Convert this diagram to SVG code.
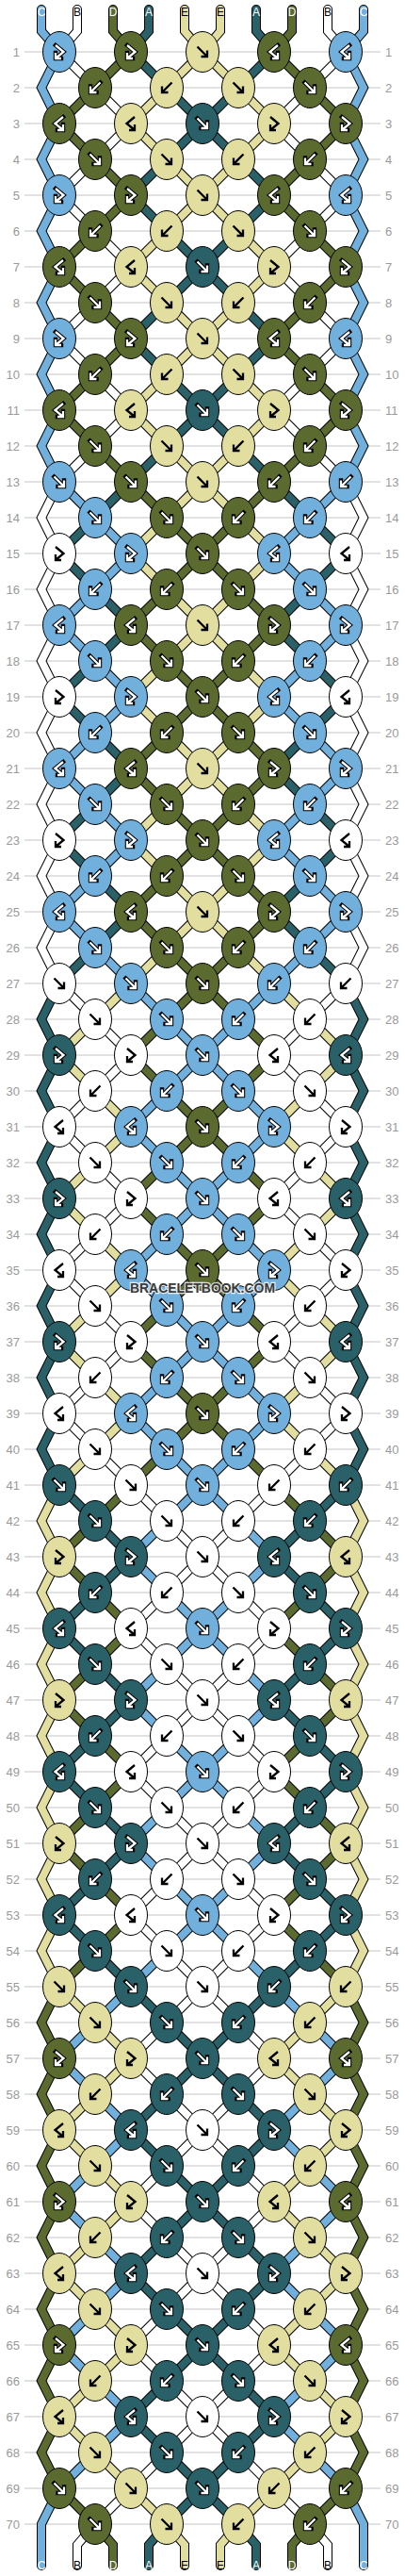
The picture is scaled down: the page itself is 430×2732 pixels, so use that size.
<svg xmlns="http://www.w3.org/2000/svg" width="430" height="2732" viewBox="0 0 430 2732">
<style>
.ln{stroke:#c4c4c4;stroke-width:1;fill:none}
.lb{font-family:"Liberation Sans",Arial,sans-serif;font-size:13px;fill:#9a9a9a}
.l{text-anchor:end}
.so{fill:none;stroke:#000;stroke-width:10;stroke-linejoin:miter;stroke-linecap:round}
.sc{fill:none;stroke-width:8;stroke-linejoin:miter;stroke-linecap:round}
.cb{stroke:#71b0dd}.cw{stroke:#fff}.co{stroke:#5b6a2f}.ct{stroke:#2a6169}.cy{stroke:#e2dea0}
.ao{fill:none;stroke-width:4.4;stroke-linecap:square;stroke-linejoin:miter}
.ai{fill:none;stroke:currentColor;stroke-width:2.3;stroke-linejoin:miter}
.b{fill:#71b0dd;stroke:#000;color:#fff}
.o{fill:#5b6a2f;stroke:#000;color:#fff}
.t{fill:#2a6169;stroke:#000;color:#fff}
.w{fill:#fff;stroke:none;color:#000}
.y{fill:#e2dea0;stroke:none;color:#000}
.sl{font-family:"Liberation Sans",Arial,sans-serif;font-size:12px;text-anchor:middle}
.tw{fill:#fff}.tk{fill:#000}
</style>
<defs>
<ellipse id="e" rx="17.5" ry="21.5" stroke="#000" stroke-width="1"/>
<path id="aF" d="M-5.5,-5.5L4,4M5,-1.5V5H-1.5"/>
<path id="aB" d="M5.5,-5.5L-4,4M-5,-1.5V5H1.5"/>
<path id="aFB" d="M-4,-7L4.5,0L-3.5,6.5M-4,1V7H2"/>
<path id="aBF" d="M4,-7L-4.5,0L3.5,6.5M4,1V7H-2"/>
<g id="F"><use href="#e"/><use href="#aF" class="ao"/><use href="#aF" class="ai"/></g>
<g id="B"><use href="#e"/><use href="#aB" class="ao"/><use href="#aB" class="ai"/></g>
<g id="FB"><use href="#e"/><use href="#aFB" class="ao"/><use href="#aFB" class="ai"/></g>
<g id="BF"><use href="#e"/><use href="#aBF" class="ao"/><use href="#aBF" class="ai"/></g>
<path id="s0" d="M44,10L44,33 63,55 44,93 63,131 44,169 63,207 44,245 63,283 44,321 63,359 44,397 63,435 44,473 63,511 101,549 139,587 101,625 63,663 101,701 139,739 101,777 63,815 101,853 139,891 101,929 63,967 101,1005 139,1043 177,1081 215,1119 253,1157 291,1195 253,1233 215,1271 177,1309 139,1347 177,1385 215,1423 253,1461 291,1499 253,1537 215,1575 177,1613 139,1651 177,1689 215,1727 253,1765 291,1803 253,1841 215,1879 177,1917 139,1955 177,1993 215,2031 253,2069 291,2107 329,2145 367,2183 329,2221 291,2259 329,2297 367,2335 329,2373 291,2411 329,2449 367,2487 329,2525 291,2563 329,2601 367,2639 386,2677 386,2721"/>
<path id="s1" d="M82,10L82,33 63,55 101,93 139,131 101,169 63,207 101,245 139,283 101,321 63,359 101,397 139,435 101,473 63,511 44,549 63,587 44,625 63,663 44,701 63,739 44,777 63,815 44,853 63,891 44,929 63,967 44,1005 63,1043 101,1081 139,1119 101,1157 63,1195 101,1233 139,1271 101,1309 63,1347 101,1385 139,1423 101,1461 63,1499 101,1537 139,1575 177,1613 215,1651 253,1689 291,1727 253,1765 215,1803 177,1841 139,1879 177,1917 215,1955 253,1993 291,2031 253,2069 215,2107 177,2145 139,2183 177,2221 215,2259 253,2297 291,2335 253,2373 215,2411 177,2449 139,2487 177,2525 215,2563 253,2601 291,2639 329,2677 348,2699 348,2721"/>
<path id="s2" d="M120,10L120,33 139,55 101,93 63,131 101,169 139,207 101,245 63,283 101,321 139,359 101,397 63,435 101,473 139,511 177,549 215,587 253,625 291,663 253,701 215,739 177,777 139,815 177,853 215,891 253,929 291,967 253,1005 215,1043 177,1081 139,1119 177,1157 215,1195 253,1233 291,1271 253,1309 215,1347 177,1385 139,1423 177,1461 215,1499 253,1537 291,1575 329,1613 367,1651 329,1689 291,1727 329,1765 367,1803 329,1841 291,1879 329,1917 367,1955 329,1993 291,2031 329,2069 367,2107 386,2145 367,2183 386,2221 367,2259 386,2297 367,2335 386,2373 367,2411 386,2449 367,2487 386,2525 367,2563 386,2601 367,2639 329,2677 310,2699 310,2721"/>
<path id="s3" d="M158,10L158,33 139,55 177,93 215,131 253,169 291,207 253,245 215,283 177,321 139,359 177,397 215,435 253,473 291,511 329,549 367,587 329,625 291,663 329,701 367,739 329,777 291,815 329,853 367,891 329,929 291,967 329,1005 367,1043 386,1081 367,1119 386,1157 367,1195 386,1233 367,1271 386,1309 367,1347 386,1385 367,1423 386,1461 367,1499 386,1537 367,1575 329,1613 291,1651 329,1689 367,1727 329,1765 291,1803 329,1841 367,1879 329,1917 291,1955 329,1993 367,2031 329,2069 291,2107 253,2145 215,2183 177,2221 139,2259 177,2297 215,2335 253,2373 291,2411 253,2449 215,2487 177,2525 139,2563 177,2601 215,2639 253,2677 272,2699 272,2721"/>
<path id="s4" d="M196,10L196,33 215,55 253,93 291,131 253,169 215,207 177,245 139,283 177,321 215,359 253,397 291,435 253,473 215,511 177,549 139,587 177,625 215,663 253,701 291,739 253,777 215,815 177,853 139,891 177,929 215,967 253,1005 291,1043 329,1081 367,1119 329,1157 291,1195 329,1233 367,1271 329,1309 291,1347 329,1385 367,1423 329,1461 291,1499 329,1537 367,1575 386,1613 367,1651 386,1689 367,1727 386,1765 367,1803 386,1841 367,1879 386,1917 367,1955 386,1993 367,2031 386,2069 367,2107 329,2145 291,2183 329,2221 367,2259 329,2297 291,2335 329,2373 367,2411 329,2449 291,2487 329,2525 367,2563 329,2601 291,2639 253,2677 234,2699 234,2721"/>
</defs>
<rect width="430" height="2732" fill="#fff"/>
<g id="rowlines">
<path class="ln" d="M26,55H404M26,93H404M26,131H404M26,169H404M26,207H404M26,245H404M26,283H404M26,321H404M26,359H404M26,397H404M26,435H404M26,473H404M26,511H404M26,549H404M26,587H404M26,625H404M26,663H404M26,701H404M26,739H404M26,777H404M26,815H404M26,853H404M26,891H404M26,929H404M26,967H404M26,1005H404M26,1043H404M26,1081H404M26,1119H404M26,1157H404M26,1195H404M26,1233H404M26,1271H404M26,1309H404M26,1347H404M26,1385H404M26,1423H404M26,1461H404M26,1499H404M26,1537H404M26,1575H404M26,1613H404M26,1651H404M26,1689H404M26,1727H404M26,1765H404M26,1803H404M26,1841H404M26,1879H404M26,1917H404M26,1955H404M26,1993H404M26,2031H404M26,2069H404M26,2107H404M26,2145H404M26,2183H404M26,2221H404M26,2259H404M26,2297H404M26,2335H404M26,2373H404M26,2411H404M26,2449H404M26,2487H404M26,2525H404M26,2563H404M26,2601H404M26,2639H404M26,2677H404"/>
</g>
<g id="rowlabels" class="lb">
<g class="l">
<text x="21" y="60">1</text><text x="21" y="98">2</text><text x="21" y="136">3</text><text x="21" y="174">4</text><text x="21" y="212">5</text><text x="21" y="250">6</text><text x="21" y="288">7</text><text x="21" y="326">8</text><text x="21" y="364">9</text><text x="21" y="402">10</text><text x="21" y="440">11</text><text x="21" y="478">12</text><text x="21" y="516">13</text><text x="21" y="554">14</text><text x="21" y="592">15</text><text x="21" y="630">16</text><text x="21" y="668">17</text><text x="21" y="706">18</text><text x="21" y="744">19</text><text x="21" y="782">20</text><text x="21" y="820">21</text><text x="21" y="858">22</text><text x="21" y="896">23</text><text x="21" y="934">24</text><text x="21" y="972">25</text><text x="21" y="1010">26</text><text x="21" y="1048">27</text><text x="21" y="1086">28</text><text x="21" y="1124">29</text><text x="21" y="1162">30</text><text x="21" y="1200">31</text><text x="21" y="1238">32</text><text x="21" y="1276">33</text><text x="21" y="1314">34</text><text x="21" y="1352">35</text><text x="21" y="1390">36</text><text x="21" y="1428">37</text><text x="21" y="1466">38</text><text x="21" y="1504">39</text><text x="21" y="1542">40</text><text x="21" y="1580">41</text><text x="21" y="1618">42</text><text x="21" y="1656">43</text><text x="21" y="1694">44</text><text x="21" y="1732">45</text><text x="21" y="1770">46</text><text x="21" y="1808">47</text><text x="21" y="1846">48</text><text x="21" y="1884">49</text><text x="21" y="1922">50</text><text x="21" y="1960">51</text><text x="21" y="1998">52</text><text x="21" y="2036">53</text><text x="21" y="2074">54</text><text x="21" y="2112">55</text><text x="21" y="2150">56</text><text x="21" y="2188">57</text><text x="21" y="2226">58</text><text x="21" y="2264">59</text><text x="21" y="2302">60</text><text x="21" y="2340">61</text><text x="21" y="2378">62</text><text x="21" y="2416">63</text><text x="21" y="2454">64</text><text x="21" y="2492">65</text><text x="21" y="2530">66</text><text x="21" y="2568">67</text><text x="21" y="2606">68</text><text x="21" y="2644">69</text><text x="21" y="2682">70</text>
</g>
<g>
<text x="409" y="60">1</text><text x="409" y="98">2</text><text x="409" y="136">3</text><text x="409" y="174">4</text><text x="409" y="212">5</text><text x="409" y="250">6</text><text x="409" y="288">7</text><text x="409" y="326">8</text><text x="409" y="364">9</text><text x="409" y="402">10</text><text x="409" y="440">11</text><text x="409" y="478">12</text><text x="409" y="516">13</text><text x="409" y="554">14</text><text x="409" y="592">15</text><text x="409" y="630">16</text><text x="409" y="668">17</text><text x="409" y="706">18</text><text x="409" y="744">19</text><text x="409" y="782">20</text><text x="409" y="820">21</text><text x="409" y="858">22</text><text x="409" y="896">23</text><text x="409" y="934">24</text><text x="409" y="972">25</text><text x="409" y="1010">26</text><text x="409" y="1048">27</text><text x="409" y="1086">28</text><text x="409" y="1124">29</text><text x="409" y="1162">30</text><text x="409" y="1200">31</text><text x="409" y="1238">32</text><text x="409" y="1276">33</text><text x="409" y="1314">34</text><text x="409" y="1352">35</text><text x="409" y="1390">36</text><text x="409" y="1428">37</text><text x="409" y="1466">38</text><text x="409" y="1504">39</text><text x="409" y="1542">40</text><text x="409" y="1580">41</text><text x="409" y="1618">42</text><text x="409" y="1656">43</text><text x="409" y="1694">44</text><text x="409" y="1732">45</text><text x="409" y="1770">46</text><text x="409" y="1808">47</text><text x="409" y="1846">48</text><text x="409" y="1884">49</text><text x="409" y="1922">50</text><text x="409" y="1960">51</text><text x="409" y="1998">52</text><text x="409" y="2036">53</text><text x="409" y="2074">54</text><text x="409" y="2112">55</text><text x="409" y="2150">56</text><text x="409" y="2188">57</text><text x="409" y="2226">58</text><text x="409" y="2264">59</text><text x="409" y="2302">60</text><text x="409" y="2340">61</text><text x="409" y="2378">62</text><text x="409" y="2416">63</text><text x="409" y="2454">64</text><text x="409" y="2492">65</text><text x="409" y="2530">66</text><text x="409" y="2568">67</text><text x="409" y="2606">68</text><text x="409" y="2644">69</text><text x="409" y="2682">70</text>
</g>
</g>
<g id="connectors">
<use href="#s0" class="so"/><use href="#s1" class="so"/><use href="#s2" class="so"/><use href="#s3" class="so"/><use href="#s4" class="so"/>
<g transform="matrix(-1,0,0,1,430,0)"><use href="#s0" class="so"/><use href="#s1" class="so"/><use href="#s2" class="so"/><use href="#s3" class="so"/><use href="#s4" class="so"/></g>
<use href="#s0" class="sc cb"/><use href="#s1" class="sc cw"/><use href="#s2" class="sc co"/><use href="#s3" class="sc ct"/><use href="#s4" class="sc cy"/>
<g transform="matrix(-1,0,0,1,430,0)"><use href="#s0" class="sc cb"/><use href="#s1" class="sc cw"/><use href="#s2" class="sc co"/><use href="#s3" class="sc ct"/><use href="#s4" class="sc cy"/></g>
</g>
<g id="stringlabels" class="sl">
<text x="44" y="17" class="tw">C</text><text x="82" y="17" class="tk">B</text><text x="120" y="17" class="tw">D</text><text x="158" y="17" class="tw">A</text><text x="196" y="17" class="tk">E</text><text x="234" y="17" class="tk">E</text><text x="272" y="17" class="tw">A</text><text x="310" y="17" class="tw">D</text><text x="348" y="17" class="tk">B</text><text x="386" y="17" class="tw">C</text>
<text x="44" y="2725" class="tw">C</text><text x="82" y="2725" class="tk">B</text><text x="120" y="2725" class="tw">D</text><text x="158" y="2725" class="tw">A</text><text x="196" y="2725" class="tk">E</text><text x="234" y="2725" class="tk">E</text><text x="272" y="2725" class="tw">A</text><text x="310" y="2725" class="tw">D</text><text x="348" y="2725" class="tk">B</text><text x="386" y="2725" class="tw">C</text>
</g>
<g id="knots">
<g id="k1-1" class="b"><use href="#FB" x="63" y="55"/></g><g id="k1-2" class="o"><use href="#FB" x="139" y="55"/></g><g id="k1-3" class="y"><use href="#F" x="215" y="55"/></g><g id="k1-4" class="o"><use href="#BF" x="291" y="55"/></g><g id="k1-5" class="b"><use href="#BF" x="367" y="55"/></g>
<g id="k2-1" class="o"><use href="#B" x="101" y="93"/></g><g id="k2-2" class="y"><use href="#B" x="177" y="93"/></g><g id="k2-3" class="y"><use href="#F" x="253" y="93"/></g><g id="k2-4" class="o"><use href="#F" x="329" y="93"/></g>
<g id="k3-1" class="o"><use href="#BF" x="63" y="131"/></g><g id="k3-2" class="y"><use href="#BF" x="139" y="131"/></g><g id="k3-3" class="t"><use href="#F" x="215" y="131"/></g><g id="k3-4" class="y"><use href="#FB" x="291" y="131"/></g><g id="k3-5" class="o"><use href="#FB" x="367" y="131"/></g>
<g id="k4-1" class="o"><use href="#F" x="101" y="169"/></g><g id="k4-2" class="y"><use href="#F" x="177" y="169"/></g><g id="k4-3" class="y"><use href="#B" x="253" y="169"/></g><g id="k4-4" class="o"><use href="#B" x="329" y="169"/></g>
<g id="k5-1" class="b"><use href="#FB" x="63" y="207"/></g><g id="k5-2" class="o"><use href="#FB" x="139" y="207"/></g><g id="k5-3" class="y"><use href="#F" x="215" y="207"/></g><g id="k5-4" class="o"><use href="#BF" x="291" y="207"/></g><g id="k5-5" class="b"><use href="#BF" x="367" y="207"/></g>
<g id="k6-1" class="o"><use href="#B" x="101" y="245"/></g><g id="k6-2" class="y"><use href="#B" x="177" y="245"/></g><g id="k6-3" class="y"><use href="#F" x="253" y="245"/></g><g id="k6-4" class="o"><use href="#F" x="329" y="245"/></g>
<g id="k7-1" class="o"><use href="#BF" x="63" y="283"/></g><g id="k7-2" class="y"><use href="#BF" x="139" y="283"/></g><g id="k7-3" class="t"><use href="#F" x="215" y="283"/></g><g id="k7-4" class="y"><use href="#FB" x="291" y="283"/></g><g id="k7-5" class="o"><use href="#FB" x="367" y="283"/></g>
<g id="k8-1" class="o"><use href="#F" x="101" y="321"/></g><g id="k8-2" class="y"><use href="#F" x="177" y="321"/></g><g id="k8-3" class="y"><use href="#B" x="253" y="321"/></g><g id="k8-4" class="o"><use href="#B" x="329" y="321"/></g>
<g id="k9-1" class="b"><use href="#FB" x="63" y="359"/></g><g id="k9-2" class="o"><use href="#FB" x="139" y="359"/></g><g id="k9-3" class="y"><use href="#F" x="215" y="359"/></g><g id="k9-4" class="o"><use href="#BF" x="291" y="359"/></g><g id="k9-5" class="b"><use href="#BF" x="367" y="359"/></g>
<g id="k10-1" class="o"><use href="#B" x="101" y="397"/></g><g id="k10-2" class="y"><use href="#B" x="177" y="397"/></g><g id="k10-3" class="y"><use href="#F" x="253" y="397"/></g><g id="k10-4" class="o"><use href="#F" x="329" y="397"/></g>
<g id="k11-1" class="o"><use href="#BF" x="63" y="435"/></g><g id="k11-2" class="y"><use href="#BF" x="139" y="435"/></g><g id="k11-3" class="t"><use href="#F" x="215" y="435"/></g><g id="k11-4" class="y"><use href="#FB" x="291" y="435"/></g><g id="k11-5" class="o"><use href="#FB" x="367" y="435"/></g>
<g id="k12-1" class="o"><use href="#F" x="101" y="473"/></g><g id="k12-2" class="y"><use href="#F" x="177" y="473"/></g><g id="k12-3" class="y"><use href="#B" x="253" y="473"/></g><g id="k12-4" class="o"><use href="#B" x="329" y="473"/></g>
<g id="k13-1" class="b"><use href="#F" x="63" y="511"/></g><g id="k13-2" class="o"><use href="#F" x="139" y="511"/></g><g id="k13-3" class="y"><use href="#F" x="215" y="511"/></g><g id="k13-4" class="o"><use href="#B" x="291" y="511"/></g><g id="k13-5" class="b"><use href="#B" x="367" y="511"/></g>
<g id="k14-1" class="b"><use href="#F" x="101" y="549"/></g><g id="k14-2" class="o"><use href="#F" x="177" y="549"/></g><g id="k14-3" class="o"><use href="#B" x="253" y="549"/></g><g id="k14-4" class="b"><use href="#B" x="329" y="549"/></g>
<g id="k15-1" class="w"><use href="#FB" x="63" y="587"/></g><g id="k15-2" class="b"><use href="#FB" x="139" y="587"/></g><g id="k15-3" class="o"><use href="#F" x="215" y="587"/></g><g id="k15-4" class="b"><use href="#BF" x="291" y="587"/></g><g id="k15-5" class="w"><use href="#BF" x="367" y="587"/></g>
<g id="k16-1" class="b"><use href="#B" x="101" y="625"/></g><g id="k16-2" class="o"><use href="#B" x="177" y="625"/></g><g id="k16-3" class="o"><use href="#F" x="253" y="625"/></g><g id="k16-4" class="b"><use href="#F" x="329" y="625"/></g>
<g id="k17-1" class="b"><use href="#BF" x="63" y="663"/></g><g id="k17-2" class="o"><use href="#BF" x="139" y="663"/></g><g id="k17-3" class="y"><use href="#F" x="215" y="663"/></g><g id="k17-4" class="o"><use href="#FB" x="291" y="663"/></g><g id="k17-5" class="b"><use href="#FB" x="367" y="663"/></g>
<g id="k18-1" class="b"><use href="#F" x="101" y="701"/></g><g id="k18-2" class="o"><use href="#F" x="177" y="701"/></g><g id="k18-3" class="o"><use href="#B" x="253" y="701"/></g><g id="k18-4" class="b"><use href="#B" x="329" y="701"/></g>
<g id="k19-1" class="w"><use href="#FB" x="63" y="739"/></g><g id="k19-2" class="b"><use href="#FB" x="139" y="739"/></g><g id="k19-3" class="o"><use href="#F" x="215" y="739"/></g><g id="k19-4" class="b"><use href="#BF" x="291" y="739"/></g><g id="k19-5" class="w"><use href="#BF" x="367" y="739"/></g>
<g id="k20-1" class="b"><use href="#B" x="101" y="777"/></g><g id="k20-2" class="o"><use href="#B" x="177" y="777"/></g><g id="k20-3" class="o"><use href="#F" x="253" y="777"/></g><g id="k20-4" class="b"><use href="#F" x="329" y="777"/></g>
<g id="k21-1" class="b"><use href="#BF" x="63" y="815"/></g><g id="k21-2" class="o"><use href="#BF" x="139" y="815"/></g><g id="k21-3" class="y"><use href="#F" x="215" y="815"/></g><g id="k21-4" class="o"><use href="#FB" x="291" y="815"/></g><g id="k21-5" class="b"><use href="#FB" x="367" y="815"/></g>
<g id="k22-1" class="b"><use href="#F" x="101" y="853"/></g><g id="k22-2" class="o"><use href="#F" x="177" y="853"/></g><g id="k22-3" class="o"><use href="#B" x="253" y="853"/></g><g id="k22-4" class="b"><use href="#B" x="329" y="853"/></g>
<g id="k23-1" class="w"><use href="#FB" x="63" y="891"/></g><g id="k23-2" class="b"><use href="#FB" x="139" y="891"/></g><g id="k23-3" class="o"><use href="#F" x="215" y="891"/></g><g id="k23-4" class="b"><use href="#BF" x="291" y="891"/></g><g id="k23-5" class="w"><use href="#BF" x="367" y="891"/></g>
<g id="k24-1" class="b"><use href="#B" x="101" y="929"/></g><g id="k24-2" class="o"><use href="#B" x="177" y="929"/></g><g id="k24-3" class="o"><use href="#F" x="253" y="929"/></g><g id="k24-4" class="b"><use href="#F" x="329" y="929"/></g>
<g id="k25-1" class="b"><use href="#BF" x="63" y="967"/></g><g id="k25-2" class="o"><use href="#BF" x="139" y="967"/></g><g id="k25-3" class="y"><use href="#F" x="215" y="967"/></g><g id="k25-4" class="o"><use href="#FB" x="291" y="967"/></g><g id="k25-5" class="b"><use href="#FB" x="367" y="967"/></g>
<g id="k26-1" class="b"><use href="#F" x="101" y="1005"/></g><g id="k26-2" class="o"><use href="#F" x="177" y="1005"/></g><g id="k26-3" class="o"><use href="#B" x="253" y="1005"/></g><g id="k26-4" class="b"><use href="#B" x="329" y="1005"/></g>
<g id="k27-1" class="w"><use href="#F" x="63" y="1043"/></g><g id="k27-2" class="b"><use href="#F" x="139" y="1043"/></g><g id="k27-3" class="o"><use href="#F" x="215" y="1043"/></g><g id="k27-4" class="b"><use href="#B" x="291" y="1043"/></g><g id="k27-5" class="w"><use href="#B" x="367" y="1043"/></g>
<g id="k28-1" class="w"><use href="#F" x="101" y="1081"/></g><g id="k28-2" class="b"><use href="#F" x="177" y="1081"/></g><g id="k28-3" class="b"><use href="#B" x="253" y="1081"/></g><g id="k28-4" class="w"><use href="#B" x="329" y="1081"/></g>
<g id="k29-1" class="t"><use href="#FB" x="63" y="1119"/></g><g id="k29-2" class="w"><use href="#FB" x="139" y="1119"/></g><g id="k29-3" class="b"><use href="#F" x="215" y="1119"/></g><g id="k29-4" class="w"><use href="#BF" x="291" y="1119"/></g><g id="k29-5" class="t"><use href="#BF" x="367" y="1119"/></g>
<g id="k30-1" class="w"><use href="#B" x="101" y="1157"/></g><g id="k30-2" class="b"><use href="#B" x="177" y="1157"/></g><g id="k30-3" class="b"><use href="#F" x="253" y="1157"/></g><g id="k30-4" class="w"><use href="#F" x="329" y="1157"/></g>
<g id="k31-1" class="w"><use href="#BF" x="63" y="1195"/></g><g id="k31-2" class="b"><use href="#BF" x="139" y="1195"/></g><g id="k31-3" class="o"><use href="#F" x="215" y="1195"/></g><g id="k31-4" class="b"><use href="#FB" x="291" y="1195"/></g><g id="k31-5" class="w"><use href="#FB" x="367" y="1195"/></g>
<g id="k32-1" class="w"><use href="#F" x="101" y="1233"/></g><g id="k32-2" class="b"><use href="#F" x="177" y="1233"/></g><g id="k32-3" class="b"><use href="#B" x="253" y="1233"/></g><g id="k32-4" class="w"><use href="#B" x="329" y="1233"/></g>
<g id="k33-1" class="t"><use href="#FB" x="63" y="1271"/></g><g id="k33-2" class="w"><use href="#FB" x="139" y="1271"/></g><g id="k33-3" class="b"><use href="#F" x="215" y="1271"/></g><g id="k33-4" class="w"><use href="#BF" x="291" y="1271"/></g><g id="k33-5" class="t"><use href="#BF" x="367" y="1271"/></g>
<g id="k34-1" class="w"><use href="#B" x="101" y="1309"/></g><g id="k34-2" class="b"><use href="#B" x="177" y="1309"/></g><g id="k34-3" class="b"><use href="#F" x="253" y="1309"/></g><g id="k34-4" class="w"><use href="#F" x="329" y="1309"/></g>
<g id="k35-1" class="w"><use href="#BF" x="63" y="1347"/></g><g id="k35-2" class="b"><use href="#BF" x="139" y="1347"/></g><g id="k35-3" class="o"><use href="#F" x="215" y="1347"/></g><g id="k35-4" class="b"><use href="#FB" x="291" y="1347"/></g><g id="k35-5" class="w"><use href="#FB" x="367" y="1347"/></g>
<g id="k36-1" class="w"><use href="#F" x="101" y="1385"/></g><g id="k36-2" class="b"><use href="#F" x="177" y="1385"/></g><g id="k36-3" class="b"><use href="#B" x="253" y="1385"/></g><g id="k36-4" class="w"><use href="#B" x="329" y="1385"/></g>
<g id="k37-1" class="t"><use href="#FB" x="63" y="1423"/></g><g id="k37-2" class="w"><use href="#FB" x="139" y="1423"/></g><g id="k37-3" class="b"><use href="#F" x="215" y="1423"/></g><g id="k37-4" class="w"><use href="#BF" x="291" y="1423"/></g><g id="k37-5" class="t"><use href="#BF" x="367" y="1423"/></g>
<g id="k38-1" class="w"><use href="#B" x="101" y="1461"/></g><g id="k38-2" class="b"><use href="#B" x="177" y="1461"/></g><g id="k38-3" class="b"><use href="#F" x="253" y="1461"/></g><g id="k38-4" class="w"><use href="#F" x="329" y="1461"/></g>
<g id="k39-1" class="w"><use href="#BF" x="63" y="1499"/></g><g id="k39-2" class="b"><use href="#BF" x="139" y="1499"/></g><g id="k39-3" class="o"><use href="#F" x="215" y="1499"/></g><g id="k39-4" class="b"><use href="#FB" x="291" y="1499"/></g><g id="k39-5" class="w"><use href="#FB" x="367" y="1499"/></g>
<g id="k40-1" class="w"><use href="#F" x="101" y="1537"/></g><g id="k40-2" class="b"><use href="#F" x="177" y="1537"/></g><g id="k40-3" class="b"><use href="#B" x="253" y="1537"/></g><g id="k40-4" class="w"><use href="#B" x="329" y="1537"/></g>
<g id="k41-1" class="t"><use href="#F" x="63" y="1575"/></g><g id="k41-2" class="w"><use href="#F" x="139" y="1575"/></g><g id="k41-3" class="b"><use href="#F" x="215" y="1575"/></g><g id="k41-4" class="w"><use href="#B" x="291" y="1575"/></g><g id="k41-5" class="t"><use href="#B" x="367" y="1575"/></g>
<g id="k42-1" class="t"><use href="#F" x="101" y="1613"/></g><g id="k42-2" class="w"><use href="#F" x="177" y="1613"/></g><g id="k42-3" class="w"><use href="#B" x="253" y="1613"/></g><g id="k42-4" class="t"><use href="#B" x="329" y="1613"/></g>
<g id="k43-1" class="y"><use href="#FB" x="63" y="1651"/></g><g id="k43-2" class="t"><use href="#FB" x="139" y="1651"/></g><g id="k43-3" class="w"><use href="#F" x="215" y="1651"/></g><g id="k43-4" class="t"><use href="#BF" x="291" y="1651"/></g><g id="k43-5" class="y"><use href="#BF" x="367" y="1651"/></g>
<g id="k44-1" class="t"><use href="#B" x="101" y="1689"/></g><g id="k44-2" class="w"><use href="#B" x="177" y="1689"/></g><g id="k44-3" class="w"><use href="#F" x="253" y="1689"/></g><g id="k44-4" class="t"><use href="#F" x="329" y="1689"/></g>
<g id="k45-1" class="t"><use href="#BF" x="63" y="1727"/></g><g id="k45-2" class="w"><use href="#BF" x="139" y="1727"/></g><g id="k45-3" class="b"><use href="#F" x="215" y="1727"/></g><g id="k45-4" class="w"><use href="#FB" x="291" y="1727"/></g><g id="k45-5" class="t"><use href="#FB" x="367" y="1727"/></g>
<g id="k46-1" class="t"><use href="#F" x="101" y="1765"/></g><g id="k46-2" class="w"><use href="#F" x="177" y="1765"/></g><g id="k46-3" class="w"><use href="#B" x="253" y="1765"/></g><g id="k46-4" class="t"><use href="#B" x="329" y="1765"/></g>
<g id="k47-1" class="y"><use href="#FB" x="63" y="1803"/></g><g id="k47-2" class="t"><use href="#FB" x="139" y="1803"/></g><g id="k47-3" class="w"><use href="#F" x="215" y="1803"/></g><g id="k47-4" class="t"><use href="#BF" x="291" y="1803"/></g><g id="k47-5" class="y"><use href="#BF" x="367" y="1803"/></g>
<g id="k48-1" class="t"><use href="#B" x="101" y="1841"/></g><g id="k48-2" class="w"><use href="#B" x="177" y="1841"/></g><g id="k48-3" class="w"><use href="#F" x="253" y="1841"/></g><g id="k48-4" class="t"><use href="#F" x="329" y="1841"/></g>
<g id="k49-1" class="t"><use href="#BF" x="63" y="1879"/></g><g id="k49-2" class="w"><use href="#BF" x="139" y="1879"/></g><g id="k49-3" class="b"><use href="#F" x="215" y="1879"/></g><g id="k49-4" class="w"><use href="#FB" x="291" y="1879"/></g><g id="k49-5" class="t"><use href="#FB" x="367" y="1879"/></g>
<g id="k50-1" class="t"><use href="#F" x="101" y="1917"/></g><g id="k50-2" class="w"><use href="#F" x="177" y="1917"/></g><g id="k50-3" class="w"><use href="#B" x="253" y="1917"/></g><g id="k50-4" class="t"><use href="#B" x="329" y="1917"/></g>
<g id="k51-1" class="y"><use href="#FB" x="63" y="1955"/></g><g id="k51-2" class="t"><use href="#FB" x="139" y="1955"/></g><g id="k51-3" class="w"><use href="#F" x="215" y="1955"/></g><g id="k51-4" class="t"><use href="#BF" x="291" y="1955"/></g><g id="k51-5" class="y"><use href="#BF" x="367" y="1955"/></g>
<g id="k52-1" class="t"><use href="#B" x="101" y="1993"/></g><g id="k52-2" class="w"><use href="#B" x="177" y="1993"/></g><g id="k52-3" class="w"><use href="#F" x="253" y="1993"/></g><g id="k52-4" class="t"><use href="#F" x="329" y="1993"/></g>
<g id="k53-1" class="t"><use href="#BF" x="63" y="2031"/></g><g id="k53-2" class="w"><use href="#BF" x="139" y="2031"/></g><g id="k53-3" class="b"><use href="#F" x="215" y="2031"/></g><g id="k53-4" class="w"><use href="#FB" x="291" y="2031"/></g><g id="k53-5" class="t"><use href="#FB" x="367" y="2031"/></g>
<g id="k54-1" class="t"><use href="#F" x="101" y="2069"/></g><g id="k54-2" class="w"><use href="#F" x="177" y="2069"/></g><g id="k54-3" class="w"><use href="#B" x="253" y="2069"/></g><g id="k54-4" class="t"><use href="#B" x="329" y="2069"/></g>
<g id="k55-1" class="y"><use href="#F" x="63" y="2107"/></g><g id="k55-2" class="t"><use href="#F" x="139" y="2107"/></g><g id="k55-3" class="w"><use href="#F" x="215" y="2107"/></g><g id="k55-4" class="t"><use href="#B" x="291" y="2107"/></g><g id="k55-5" class="y"><use href="#B" x="367" y="2107"/></g>
<g id="k56-1" class="y"><use href="#F" x="101" y="2145"/></g><g id="k56-2" class="t"><use href="#F" x="177" y="2145"/></g><g id="k56-3" class="t"><use href="#B" x="253" y="2145"/></g><g id="k56-4" class="y"><use href="#B" x="329" y="2145"/></g>
<g id="k57-1" class="o"><use href="#FB" x="63" y="2183"/></g><g id="k57-2" class="y"><use href="#FB" x="139" y="2183"/></g><g id="k57-3" class="t"><use href="#F" x="215" y="2183"/></g><g id="k57-4" class="y"><use href="#BF" x="291" y="2183"/></g><g id="k57-5" class="o"><use href="#BF" x="367" y="2183"/></g>
<g id="k58-1" class="y"><use href="#B" x="101" y="2221"/></g><g id="k58-2" class="t"><use href="#B" x="177" y="2221"/></g><g id="k58-3" class="t"><use href="#F" x="253" y="2221"/></g><g id="k58-4" class="y"><use href="#F" x="329" y="2221"/></g>
<g id="k59-1" class="y"><use href="#BF" x="63" y="2259"/></g><g id="k59-2" class="t"><use href="#BF" x="139" y="2259"/></g><g id="k59-3" class="w"><use href="#F" x="215" y="2259"/></g><g id="k59-4" class="t"><use href="#FB" x="291" y="2259"/></g><g id="k59-5" class="y"><use href="#FB" x="367" y="2259"/></g>
<g id="k60-1" class="y"><use href="#F" x="101" y="2297"/></g><g id="k60-2" class="t"><use href="#F" x="177" y="2297"/></g><g id="k60-3" class="t"><use href="#B" x="253" y="2297"/></g><g id="k60-4" class="y"><use href="#B" x="329" y="2297"/></g>
<g id="k61-1" class="o"><use href="#FB" x="63" y="2335"/></g><g id="k61-2" class="y"><use href="#FB" x="139" y="2335"/></g><g id="k61-3" class="t"><use href="#F" x="215" y="2335"/></g><g id="k61-4" class="y"><use href="#BF" x="291" y="2335"/></g><g id="k61-5" class="o"><use href="#BF" x="367" y="2335"/></g>
<g id="k62-1" class="y"><use href="#B" x="101" y="2373"/></g><g id="k62-2" class="t"><use href="#B" x="177" y="2373"/></g><g id="k62-3" class="t"><use href="#F" x="253" y="2373"/></g><g id="k62-4" class="y"><use href="#F" x="329" y="2373"/></g>
<g id="k63-1" class="y"><use href="#BF" x="63" y="2411"/></g><g id="k63-2" class="t"><use href="#BF" x="139" y="2411"/></g><g id="k63-3" class="w"><use href="#F" x="215" y="2411"/></g><g id="k63-4" class="t"><use href="#FB" x="291" y="2411"/></g><g id="k63-5" class="y"><use href="#FB" x="367" y="2411"/></g>
<g id="k64-1" class="y"><use href="#F" x="101" y="2449"/></g><g id="k64-2" class="t"><use href="#F" x="177" y="2449"/></g><g id="k64-3" class="t"><use href="#B" x="253" y="2449"/></g><g id="k64-4" class="y"><use href="#B" x="329" y="2449"/></g>
<g id="k65-1" class="o"><use href="#FB" x="63" y="2487"/></g><g id="k65-2" class="y"><use href="#FB" x="139" y="2487"/></g><g id="k65-3" class="t"><use href="#F" x="215" y="2487"/></g><g id="k65-4" class="y"><use href="#BF" x="291" y="2487"/></g><g id="k65-5" class="o"><use href="#BF" x="367" y="2487"/></g>
<g id="k66-1" class="y"><use href="#B" x="101" y="2525"/></g><g id="k66-2" class="t"><use href="#B" x="177" y="2525"/></g><g id="k66-3" class="t"><use href="#F" x="253" y="2525"/></g><g id="k66-4" class="y"><use href="#F" x="329" y="2525"/></g>
<g id="k67-1" class="y"><use href="#BF" x="63" y="2563"/></g><g id="k67-2" class="t"><use href="#BF" x="139" y="2563"/></g><g id="k67-3" class="w"><use href="#F" x="215" y="2563"/></g><g id="k67-4" class="t"><use href="#FB" x="291" y="2563"/></g><g id="k67-5" class="y"><use href="#FB" x="367" y="2563"/></g>
<g id="k68-1" class="y"><use href="#F" x="101" y="2601"/></g><g id="k68-2" class="t"><use href="#F" x="177" y="2601"/></g><g id="k68-3" class="t"><use href="#B" x="253" y="2601"/></g><g id="k68-4" class="y"><use href="#B" x="329" y="2601"/></g>
<g id="k69-1" class="o"><use href="#F" x="63" y="2639"/></g><g id="k69-2" class="y"><use href="#F" x="139" y="2639"/></g><g id="k69-3" class="t"><use href="#F" x="215" y="2639"/></g><g id="k69-4" class="y"><use href="#B" x="291" y="2639"/></g><g id="k69-5" class="o"><use href="#B" x="367" y="2639"/></g>
<g id="k70-1" class="o"><use href="#F" x="101" y="2677"/></g><g id="k70-2" class="y"><use href="#F" x="177" y="2677"/></g><g id="k70-3" class="y"><use href="#B" x="253" y="2677"/></g><g id="k70-4" class="o"><use href="#B" x="329" y="2677"/></g>
</g>
<text x="215" y="1371" text-anchor="middle" font-family="Liberation Sans,Arial,sans-serif" font-weight="bold" font-size="14.5" textLength="154" lengthAdjust="spacingAndGlyphs" fill="#3a3a3a" stroke="#fff" stroke-width="2.5" stroke-opacity="0.8" paint-order="stroke">BRACELETBOOK.COM</text>
</svg>
